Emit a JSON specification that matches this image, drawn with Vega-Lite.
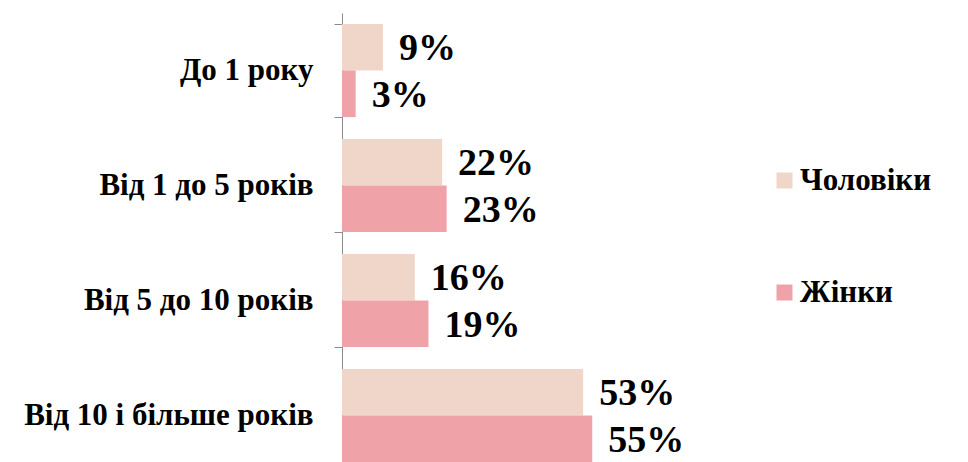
{
  "$schema": "https://vega.github.io/schema/vega-lite/v6.json",
  "autosize": {"type": "none"},
  "padding": {"left": 342, "top": 13, "right": 171, "bottom": 0},
  "width": 455,
  "height": 460,
  "background": "white",
  "config": {"view": {"stroke": null}},
  "data": {
    "values": [
      {"category": "До 1 року", "sex": "Чоловіки", "value": 0.09},
      {"category": "До 1 року", "sex": "Жінки", "value": 0.03},
      {"category": "Від 1 до 5 років", "sex": "Чоловіки", "value": 0.22},
      {"category": "Від 1 до 5 років", "sex": "Жінки", "value": 0.23},
      {"category": "Від 5 до 10 років", "sex": "Чоловіки", "value": 0.16},
      {"category": "Від 5 до 10 років", "sex": "Жінки", "value": 0.19},
      {"category": "Від 10 і більше років", "sex": "Чоловіки", "value": 0.53},
      {"category": "Від 10 і більше років", "sex": "Жінки", "value": 0.55}
    ]
  },
  "encoding": {
    "y": {
      "field": "category",
      "type": "nominal",
      "sort": ["До 1 року", "Від 1 до 5 років", "Від 5 до 10 років", "Від 10 і більше років"],
      "scale": {"paddingInner": 0.19, "paddingOuter": 0.095},
      "axis": {
        "title": null,
        "tickBand": "extent",
        "domainColor": "#8c8c8c",
        "tickColor": "#8c8c8c",
        "tickSize": 8,
        "labelPadding": 21,
        "labelFont": "Liberation Serif",
        "labelFontWeight": "bold",
        "labelFontSize": 31,
        "labelColor": "black",
        "labelLimit": 400
      }
    },
    "yOffset": {"field": "sex", "type": "nominal", "sort": ["Чоловіки", "Жінки"], "scale": {"paddingInner": 0, "paddingOuter": 0}},
    "x": {
      "field": "value",
      "type": "quantitative",
      "scale": {"domain": [0, 1]},
      "axis": null
    }
  },
  "layer": [
    {
      "mark": {"type": "bar"},
      "encoding": {
        "color": {
          "field": "sex",
          "type": "nominal",
          "scale": {"domain": ["Чоловіки", "Жінки"], "range": ["#EFD6C8", "#EFA3A8"]},
          "legend": {
            "title": null,
            "orient": "none",
            "legendX": 427,
            "legendY": 152,
            "symbolType": "square",
            "symbolSize": 256,
            "symbolStrokeWidth": 0,
            "rowPadding": 80,
            "labelFont": "Liberation Serif",
            "labelFontWeight": "bold",
            "labelFontSize": 31,
            "labelColor": "black",
            "labelOffset": 0
          }
        }
      }
    },
    {
      "mark": {
        "type": "text",
        "align": "left",
        "baseline": "middle",
        "dx": 16,
        "dy": 2,
        "font": "Liberation Serif",
        "fontWeight": "bold",
        "fontSize": 38,
        "color": "black"
      },
      "encoding": {
        "text": {"field": "value", "type": "quantitative", "format": ".0%"}
      }
    }
  ]
}
